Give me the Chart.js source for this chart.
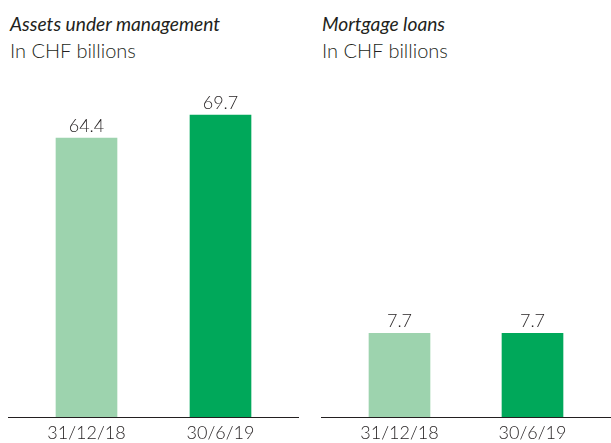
<!DOCTYPE html>
<html>
<head>
<meta charset="utf-8">
<script src="https://cdn.jsdelivr.net/npm/chart.js@4/dist/chart.umd.min.js"></script>
<style>
  html, body { margin: 0; padding: 0; background: #fff; }
  body { width: 611px; height: 443px; overflow: hidden; position: relative; font-family: Lato, sans-serif; color: #231f20; }
  .title { position: absolute; font-size: 19.2px; line-height: 26px; font-style: italic; white-space: nowrap; }
  .sub { position: absolute; font-size: 20px; line-height: 26px; font-weight: 300; white-space: nowrap; }
  .panel { position: absolute; top: 70px; height: 379px; }
</style>
</head>
<body>
<div class="title" style="left:10px;top:11px">Assets under management</div>
<div class="sub" style="left:10px;top:37px">In CHF billions</div>
<div class="title" style="left:322px;top:11px">Mortgage loans</div>
<div class="sub" style="left:322px;top:37px">In CHF billions</div>

<div class="panel" style="left:8px;width:291px"><canvas id="aum"></canvas></div>
<div class="panel" style="left:321px;width:290px"><canvas id="mort"></canvas></div>

<script>
'use strict';

// ── DATA ────────────────────────────────────────────────────────────────────
const categories = ['31/12/18', '30/6/19'];
const aumValues = [64.4, 69.7];
const mortgageValues = [7.7, 7.7];
const barColors = ['#9dd3ae', '#00a85a'];

const TEXT = '#231f20';

// value labels above bars + baseline across whole panel
const barLabels = {
  id: 'barLabels',
  afterDatasetsDraw(chart) {
    const ctx = chart.ctx;
    const meta = chart.getDatasetMeta(0);
    ctx.save();
    ctx.font = '300 18px Lato';
    ctx.fillStyle = TEXT;
    ctx.textAlign = 'center';
    ctx.textBaseline = 'alphabetic';
    meta.data.forEach((bar, i) => {
      ctx.fillText(chart.data.datasets[0].data[i].toFixed(1), bar.x, bar.y - 6);
    });
    // baseline
    const y0 = Math.round(chart.scales.y.getPixelForValue(0)) + 0.5;
    ctx.strokeStyle = TEXT;
    ctx.lineWidth = 1;
    ctx.beginPath();
    ctx.moveTo(0, y0);
    ctx.lineTo(chart.width, y0);
    ctx.stroke();
    ctx.restore();
  }
};

function makeChart(id, values, yMax, side) {
  return new Chart(document.getElementById(id), {
    type: 'bar',
    data: {
      labels: categories,
      datasets: [{
        data: values,
        backgroundColor: barColors,
        borderWidth: 0,
        barThickness: 61
      }]
    },
    options: {
      responsive: true,
      maintainAspectRatio: false,
      animation: false,
      events: [],
      layout: { padding: { left: side, right: side, top: 0, bottom: 0 } },
      plugins: { legend: { display: false }, tooltip: { enabled: false } },
      scales: {
        x: {
          grid: { display: false, drawTicks: false },
          border: { display: false },
          ticks: { color: TEXT, font: { family: 'Lato', size: 18, weight: 300 }, padding: 5 }
        },
        y: { display: false, min: 0, max: yMax }
      }
    },
    plugins: [barLabels]
  });
}

makeChart('aum', aumValues, 80.1, 11.5);
makeChart('mort', mortgageValues, 31.8, 12);
</script>
</body>
</html>
